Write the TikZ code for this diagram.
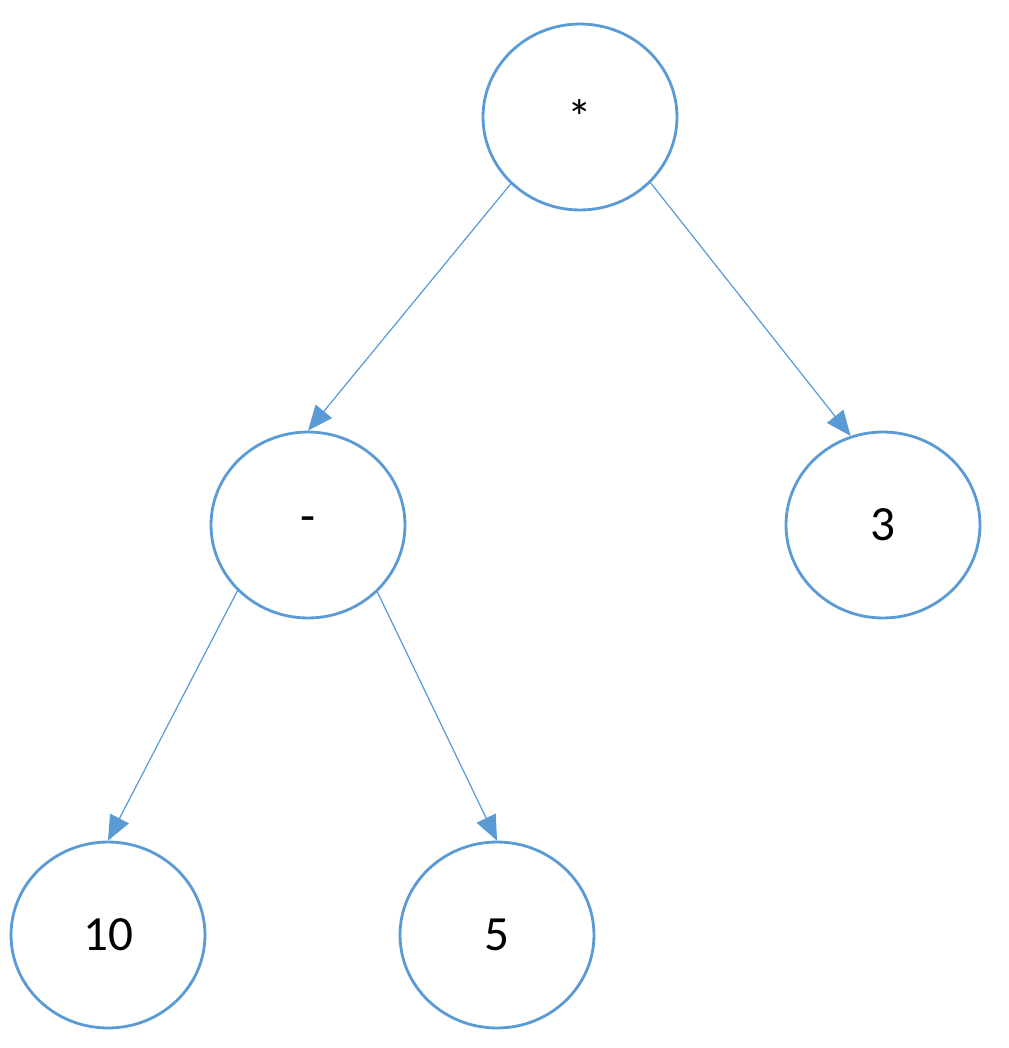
\documentclass[tikz,border=0pt]{standalone}
\usepackage{fontspec}
\setmainfont{Carlito}
\usetikzlibrary{shapes.geometric,arrows.meta}
\definecolor{treeblue}{RGB}{91,155,213}
\tikzset{
  tnode/.style={ellipse, draw=treeblue, line width=1.6pt, minimum width=3.88cm,
    minimum height=3.72cm, inner sep=0pt, font=\fontsize{28}{30}\selectfont},
  tedge/.style={draw=treeblue, line width=0.7pt, -{Triangle[length=0.5cm,width=0.42cm]}}
}
\begin{document}
\begin{tikzpicture}[x=0.02cm,y=-0.02cm]
    \useasboundingbox (0,0) rectangle (1008,1048);
    % nodes
    \node[tnode] (times) at (580,117) {*};
    \node[tnode] (minus) at (308,525) {-};
    \node[tnode] (three) at (883,525) {3};
    \node[tnode] (ten)   at (108,935) {10};
    \node[tnode] (five)  at (497,935) {5};
    % edges
    \draw[tedge] (times.224) -- (minus.north);
    \draw[tedge] (times.317) -- (three.110);
    \draw[tedge] (minus.223) -- (ten.north);
    \draw[tedge] (minus.316) -- (five.north);
\end{tikzpicture}
\end{document}
